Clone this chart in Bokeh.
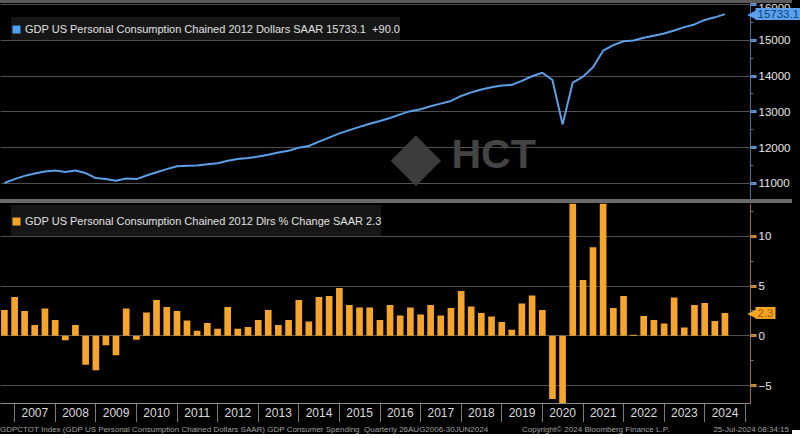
import pandas as pd
from bokeh.plotting import figure
from bokeh.models import (Range1d, FixedTicker, SingleIntervalTicker, CustomJSTickFormatter,
                          Legend, LegendItem, Label, Div)
from bokeh.layouts import column
from bokeh.embed import file_html
from bokeh.resources import INLINE

# ---------------- data ----------------
quarters = pd.period_range("2006Q3", "2024Q2", freq="Q")

level = [11010, 11120, 11210, 11275, 11330, 11360, 11320, 11360, 11290, 11150,
         11125, 11075, 11135, 11120, 11220, 11310, 11400, 11480, 11495, 11500,
         11535, 11565, 11635, 11680, 11710, 11750, 11800, 11865, 11915, 12000,
         12045, 12170, 12280, 12400, 12490, 12580, 12670, 12745, 12830, 12930,
         13020, 13075, 13155, 13230, 13305, 13445, 13545, 13625, 13690, 13735,
         13755, 13865, 13995, 14095, 13890, 12650, 13820, 13985, 14245, 14710,
         14865, 14975, 14995, 15070, 15130, 15190, 15275, 15370, 15445, 15570,
         15643.1, 15733.1]

pct = [2.6, 3.9, 2.5, 1.1, 2.75, 1.6, -0.45, 1.1, -2.9, -3.45,
       -0.95, -1.95, 2.75, -0.4, 2.35, 3.6, 2.9, 2.5, 1.55, 0.5,
       1.3, 0.7, 2.9, 0.7, 0.9, 1.6, 2.6, 1.1, 1.6, 3.6,
       1.45, 3.9, 4.0, 4.8, 3.1, 2.85, 2.85, 1.6, 3.1, 2.05,
       2.85, 2.15, 3.1, 2.05, 2.8, 4.5, 2.95, 2.3, 1.95, 1.4,
       0.6, 3.25, 4.05, 2.6, -6.35, -29.8, 38.0, 5.6, 8.9, 14.2,
       2.8, 4.0, 0.1, 2.0, 1.6, 1.25, 3.85, 0.85, 3.1, 3.3,
       1.5, 2.3]

year_labels = list(range(2007, 2025))
top_title = "GDP US Personal Consumption Chained 2012 Dollars SAAR"
bot_title = "GDP US Personal Consumption Chained 2012 Dlrs % Change SAAR"
footer_left = "GDPCTOT Index (GDP US Personal Consumption Chained Dollars SAAR) GDP Consumer Spending&nbsp; Quarterly 26AUG2006-30JUN2024"
footer_mid = "Copyright\u00a9 2024 Bloomberg Finance L.P."
footer_right = "25-Jul-2024 08:34:15"

x = quarters.to_timestamp(how="end").normalize()

# ---------------- style ----------------
FONT = "Liberation Sans"
BLUE = "#5b9fe8"
ORANGE = "#f5a52b"
GRID = "#505050"
W = 792
FW = 750
RB = W - FW
TOP_FH = 196
BOT_FH = 200
BOT_AXIS = 19
FOOT_H = 8

def ms(ts):
    return pd.Timestamp(ts).value / 1e6

x_start = pd.Timestamp("2006-08-26")
x_end = pd.Timestamp("2025-02-15")
x_range = Range1d(x_start, x_end)

def base_fig(frame_h, y_range, min_bottom):
    p = figure(frame_width=FW, frame_height=frame_h, x_range=x_range, y_range=y_range,
               x_axis_type="datetime", y_axis_location="right",
               output_backend="svg", toolbar_location=None,
               min_border_left=0, min_border_right=RB, min_border_top=0,
               min_border_bottom=min_bottom,
               background_fill_color="black", border_fill_color="black",
               outline_line_color=None)
    p.xgrid.grid_line_color = None
    p.ygrid.grid_line_color = GRID
    p.ygrid.grid_line_width = 1
    return p

def style_yaxis(ax, interval, line_col, tick_col):
    ax.ticker = SingleIntervalTicker(interval=interval, num_minor_ticks=2)
    ax.axis_line_color = line_col
    ax.major_tick_line_color = tick_col
    ax.major_tick_line_width = 3
    ax.major_tick_out = 6
    ax.major_tick_in = 0
    ax.minor_tick_line_color = line_col
    ax.minor_tick_out = 3
    ax.minor_tick_in = 0
    ax.major_label_text_color = "#e6e6e6"
    ax.major_label_text_font = FONT
    ax.major_label_text_font_size = "11.5px"
    ax.major_label_standoff = 2

def make_legend(p, color, text, frame_h, top_off, box_h):
    r = p.vbar(x=[float("nan")], top=[float("nan")], width=1,
               fill_color=color, line_color=None)
    lg = Legend(items=[LegendItem(label=text, renderers=[r])],
                location=(11, frame_h - top_off - box_h),
                background_fill_color="#161616", background_fill_alpha=1.0,
                border_line_color=None, label_text_color="#e0e0e0",
                label_text_font=FONT, label_text_font_size="11px",
                glyph_width=10, glyph_height=10, label_height=box_h,
                label_standoff=4, padding=0, margin=0, spacing=0)
    p.add_layout(lg)

def tag(p, yval, text, bg, fg):
    p.add_layout(Label(x=ms(x_end), y=yval, text="\u25c0", x_offset=6,
                       text_baseline="middle", text_align="right",
                       text_font="DejaVu Sans", text_font_size="12px",
                       text_color=bg), "right")
    p.add_layout(Label(x=ms(x_end), y=yval, text=text, x_offset=5,
                       text_baseline="middle", text_align="left",
                       text_font=FONT, text_font_size="11.5px", text_color=fg,
                       background_fill_color=bg, padding=2), "right")

# ---------------- top panel ----------------
top = base_fig(TOP_FH, Range1d(10550, 16030), 0)
top.xaxis.visible = False
style_yaxis(top.yaxis[0], 1000, "#4f6f96", "#5e93d6")
top.line(x, level, line_color=BLUE, line_width=2)

last, prev = level[-1], level[-2]
make_legend(top, "#4ea1f5", f"{top_title} {last:.1f}  {last - prev:+.1f}", TOP_FH, 14, 23)
tag(top, last, f"{last:.1f}", "#5aa2ee", "#123f77")

top.add_layout(Label(x=451, y=46, x_units="screen", y_units="screen", text="HCT",
                     text_font=FONT, text_font_style="bold", text_font_size="41px",
                     text_color="#444444", text_baseline="alphabetic"))
top.add_layout(Label(x=390, y=44, x_units="screen", y_units="screen", text="\u25c6",
                     text_font="DejaVu Sans", text_font_size="66px",
                     text_color="#3c3c3c", text_baseline="alphabetic"))

# ---------------- bottom panel ----------------
bot = base_fig(BOT_FH, Range1d(-6.8, 13.3), BOT_AXIS)
style_yaxis(bot.yaxis[0], 5, "#8a7050", "#d08a3a")
bot.vbar(x=x, top=pct, width=60 * 86400000, fill_color=ORANGE, line_color=None)

make_legend(bot, "#f5a623", f"{bot_title} {pct[-1]:.1f}", BOT_FH, 2, 31)
tag(bot, pct[-1], f"{pct[-1]:.1f}", "#f5a623", "#a9570a")

xa = bot.xaxis[0]
xa.ticker = FixedTicker(ticks=[ms(f"{y}-07-01") for y in year_labels],
                        minor_ticks=[ms(f"{y}-01-01") for y in year_labels + [year_labels[-1] + 1]])
xa.formatter = CustomJSTickFormatter(code="return String(new Date(tick).getUTCFullYear())")
xa.major_tick_line_color = None
xa.major_tick_out = 0
xa.major_tick_in = 0
xa.minor_tick_line_color = "#7a7a7a"
xa.minor_tick_out = 20
xa.minor_tick_in = 0
xa.axis_line_color = "#8a8a8a"
xa.major_label_text_color = "#dcdcdc"
xa.major_label_text_font = FONT
xa.major_label_text_font_size = "12px"
xa.major_label_standoff = -16

# ---------------- separators & footer ----------------
sep0 = Div(text="", width=W, height=3, margin=0, styles={"background-color": "#5a5a5a"})
sep1 = Div(text="", width=W, height=4, margin=0, styles={"background-color": "#6a6a6a"})
footer_html = (
    f'<div style="position:relative;width:{W}px;height:{FOOT_H}px;background:#000;color:#a0a0a0;'
    "font-family:'Liberation Sans';font-size:8px;line-height:8px;white-space:nowrap;overflow:hidden\">"
    f'<span style="position:absolute;left:0;top:0">{footer_left}</span>'
    f'<span style="position:absolute;left:522px;top:0">{footer_mid}</span>'
    f'<span style="position:absolute;right:3px;top:0">{footer_right}</span></div>'
)
footer = Div(text=footer_html, width=W, height=FOOT_H, margin=0, styles={"background-color": "#000"})

layout = column(sep0, top, sep1, bot, footer, spacing=0,
                styles={"background-color": "#000"})

open("out.html", "w").write(file_html(layout, INLINE))
